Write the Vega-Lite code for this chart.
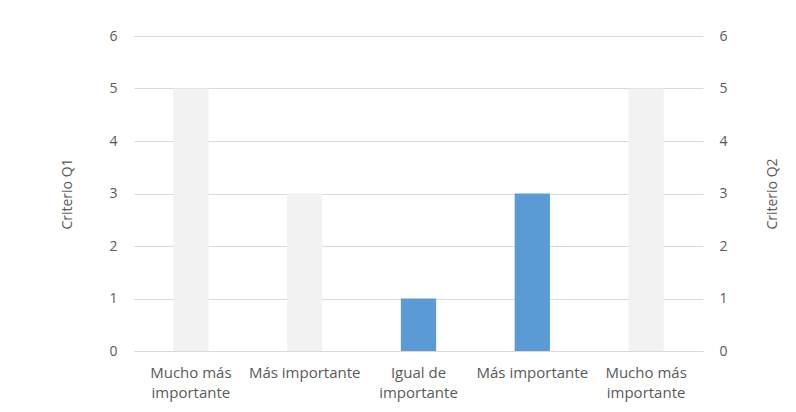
{
  "$schema": "https://vega.github.io/schema/vega-lite/v6.json",
  "autosize": "none",
  "width": 569,
  "height": 315,
  "padding": {"left": 134, "top": 36, "right": 93, "bottom": 61},
  "background": "white",
  "config": {
    "view": {"stroke": null},
    "font": "Open Sans",
    "axis": {"labelFont": "Open Sans", "titleFont": "Open Sans", "labelColor": "#595959", "titleColor": "#595959", "labelFontSize": 14, "titleFontSize": 14, "titleFontWeight": "normal", "ticks": false}
  },
  "data": {
    "values": [
      {"id": "1", "categoria": "Mucho más importante", "serie": "Q1", "valor": 5},
      {"id": "2", "categoria": "Más importante", "serie": "Q1", "valor": 3},
      {"id": "3", "categoria": "Igual de importante", "serie": "Q2", "valor": 1},
      {"id": "4", "categoria": "Más importante", "serie": "Q2", "valor": 3},
      {"id": "5", "categoria": "Mucho más importante", "serie": "Q1", "valor": 5}
    ]
  },
  "encoding": {
    "x": {
      "field": "id",
      "type": "nominal",
      "scale": {"domain": ["1", "2", "3", "4", "5"], "paddingInner": 0.69, "paddingOuter": 0.345},
      "axis": {
        "title": null,
        "labelAngle": 0,
        "labelFontSize": 15,
        "labelPadding": 14,
        "labelLineHeight": 20,
        "labelBaseline": "top",
        "domain": true,
        "domainColor": "#D9D9D9",
        "labelExpr": "datum.value == '1' || datum.value == '5' ? ['Mucho más', 'importante'] : datum.value == '3' ? ['Igual de', 'importante'] : 'Más importante'"
      }
    }
  },
  "layer": [
    {
      "transform": [{"filter": "datum.serie == 'Q1'"}],
      "mark": {"type": "bar", "color": "#F2F2F2"},
      "encoding": {
        "y": {
          "field": "valor",
          "type": "quantitative",
          "scale": {"domain": [0, 6]},
          "axis": {"orient": "left", "title": "Criterio Q1", "tickCount": 6, "grid": true, "gridColor": "#D9D9D9", "domain": false, "labelPadding": 17, "titlePadding": 34}
        }
      }
    },
    {
      "transform": [{"filter": "datum.serie == 'Q2'"}],
      "mark": {"type": "bar", "color": "#5B9BD5"},
      "encoding": {
        "y": {
          "field": "valor",
          "type": "quantitative",
          "scale": {"domain": [0, 6]},
          "axis": {"orient": "right", "title": "Criterio Q2", "titleAngle": 270, "titleBaseline": "bottom", "tickCount": 6, "grid": false, "domain": false, "labelPadding": 16, "titlePadding": 52}
        }
      }
    }
  ],
  "resolve": {"scale": {"y": "independent"}}
}
